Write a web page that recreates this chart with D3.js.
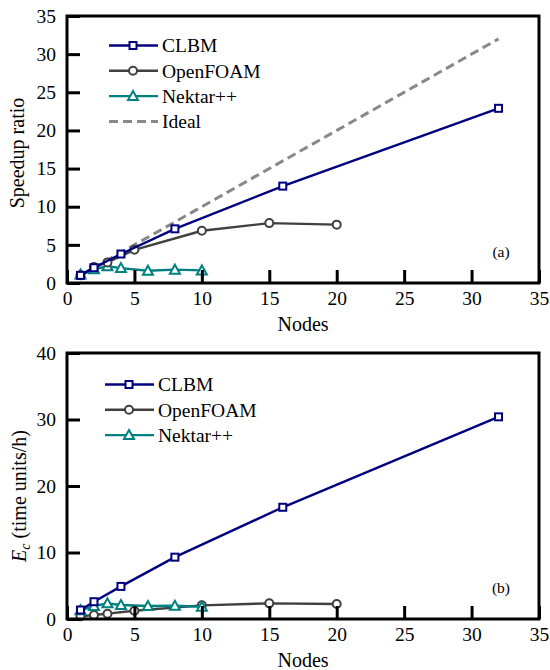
<!doctype html>
<html lang="en">
<head>
  <meta charset="utf-8">
  <title>Speedup and efficiency</title>
  <style>
    body { margin: 0; background: #fff; }
  </style>
</head>
<body>
  <div id="chart"></div>
  <script src="https://d3js.org/d3.v7.min.js"></script>
  <script>
    // Data --------------------------------------------------------------------
    const clbmNodes = [1, 2, 4, 8, 16, 32];
    const clbmSpeedup = [1, 2.0, 3.8, 7.1, 12.7, 22.9];
    const clbmEc = [1.35, 2.6, 4.9, 9.3, 16.8, 30.4];

    const foamNodes = [1, 2, 3, 5, 10, 15, 20];
    const foamSpeedup = [1, 2.1, 2.7, 4.35, 6.85, 7.85, 7.65];
    const foamEc = [0.4, 0.6, 0.8, 1.25, 2.05, 2.35, 2.25];

    const nekNodes = [1, 2, 3, 4, 6, 8, 10];
    const nekSpeedup = [1.1, 1.8, 2.2, 1.95, 1.6, 1.75, 1.65];
    const nekEc = [1.3, 1.95, 2.35, 2.1, 1.95, 2.0, 1.85];

    const idealNodes = [1, 32];
    const idealSpeedup = [1, 32];

    const xTicks = [0, 5, 10, 15, 20, 25, 30, 35];
    const yTicksA = [0, 5, 10, 15, 20, 25, 30, 35];
    const yTicksB = [0, 10, 20, 30, 40];

    const zip = (xs, ys) => xs.map((x, i) => [x, ys[i]]);

    const FONT = "Liberation Serif";

    const series = {
      clbm: { name: "CLBM", color: "#00007f", marker: "square" },
      foam: { name: "OpenFOAM", color: "#404040", marker: "circle" },
      nek: { name: "Nektar++", color: "#008080", marker: "triangle" },
      ideal: { name: "Ideal", color: "#888888", marker: null, dash: "9,5" }
    };

    const W = 550, H = 670;
    const svg = d3.select("#chart").append("svg")
      .attr("width", W).attr("height", H)
      .attr("font-family", FONT)
      .style("font-family", FONT);

    function drawMarker(g, type, x, y, color) {
      if (type === "square") {
        g.append("rect").attr("x", x - 3.5).attr("y", y - 3.5)
          .attr("width", 7).attr("height", 7)
          .attr("fill", "#fff").attr("stroke", color).attr("stroke-width", 2);
      } else if (type === "circle") {
        g.append("circle").attr("cx", x).attr("cy", y).attr("r", 4)
          .attr("fill", "#fff").attr("stroke", color).attr("stroke-width", 2);
      } else if (type === "triangle") {
        g.append("path")
          .attr("d", `M${x},${y - 5}L${x + 5},${y + 4}L${x - 5},${y + 4}Z`)
          .attr("fill", "#fff").attr("stroke", color).attr("stroke-width", 2);
      }
    }

    function panel(opt) {
      const x = d3.scaleLinear().domain([0, 35]).range([67, 539]);
      const y = d3.scaleLinear().domain(opt.yDomain).range([opt.bottom, opt.top]);
      const g = svg.append("g");

      const line = d3.line().x(d => x(d[0])).y(d => y(d[1]));

      // series
      opt.lines.forEach(s => {
        const st = series[s.key];
        g.append("path").datum(s.data)
          .attr("d", line)
          .attr("fill", "none")
          .attr("stroke", st.color)
          .attr("stroke-width", st.dash ? 3 : 2.4)
          .attr("stroke-dasharray", st.dash || null);
        if (st.marker) {
          s.data.forEach(d => drawMarker(g, st.marker, x(d[0]), y(d[1]), st.color));
        }
      });

      // frame
      g.append("rect")
        .attr("x", x(0)).attr("y", opt.top)
        .attr("width", x(35) - x(0)).attr("height", opt.bottom - opt.top)
        .attr("fill", "none").attr("stroke", "#000").attr("stroke-width", 3);

      // axes with inward ticks
      const xAxis = g.append("g")
        .attr("transform", `translate(0,${opt.bottom})`)
        .call(d3.axisBottom(x).tickValues(xTicks).tickSizeInner(-13).tickSizeOuter(0).tickPadding(8))
        .attr("font-family", FONT);
      xAxis.select(".domain").remove();
      xAxis.selectAll("line").attr("stroke-width", 3);
      xAxis.selectAll("text").attr("font-size", 19.5).attr("font-family", FONT)
        .attr("dy", "1.02em").attr("y", 2);

      const yAxis = g.append("g")
        .attr("transform", `translate(${x(0)},0)`)
        .call(d3.axisLeft(y).tickValues(opt.yTicks).tickSizeInner(-13).tickSizeOuter(0).tickPadding(11))
        .attr("font-family", FONT);
      yAxis.select(".domain").remove();
      yAxis.selectAll("line").attr("stroke-width", 3);
      yAxis.selectAll("text").attr("font-size", 19.5).attr("font-family", FONT).attr("x", -11);

      // labels
      g.append("text")
        .attr("x", (x(0) + x(35)) / 2).attr("y", opt.bottom + 48)
        .attr("text-anchor", "middle").attr("font-size", 20).attr("font-family", FONT)
        .text("Nodes");

      const yl = g.append("text")
        .attr("transform", `translate(${opt.yLabelX},${opt.yLabelY}) rotate(-90)`)
        .attr("text-anchor", "middle").attr("font-size", 20).attr("font-family", FONT);
      opt.yLabel(yl);

      g.append("text")
        .attr("x", 501).attr("y", opt.bottom - 26)
        .attr("text-anchor", "middle").attr("font-size", 15.5).attr("font-family", FONT)
        .text(opt.tag);

      // legend
      opt.legend.keys.forEach((k, i) => {
        const st = series[k];
        const ly = opt.legend.y + i * 25.3;
        const lg = g.append("g");
        lg.append("line")
          .attr("x1", opt.legend.x).attr("x2", opt.legend.x + 49)
          .attr("y1", ly).attr("y2", ly)
          .attr("stroke", st.color)
          .attr("stroke-width", st.dash ? 3 : 2.4)
          .attr("stroke-dasharray", st.dash || null);
        if (st.marker) drawMarker(lg, st.marker, opt.legend.x + 24, ly, st.color);
        lg.append("text")
          .attr("x", opt.legend.x + 53).attr("y", ly + 6.8)
          .attr("font-size", 19.5).attr("font-family", FONT)
          .text(st.name);
      });
    }

    // Panel (a) ---------------------------------------------------------------
    panel({
      top: 16, bottom: 283, yDomain: [0, 35], yTicks: yTicksA, tag: "(a)",
      lines: [
        { key: "ideal", data: zip(idealNodes, idealSpeedup) },
        { key: "nek", data: zip(nekNodes, nekSpeedup) },
        { key: "foam", data: zip(foamNodes, foamSpeedup) },
        { key: "clbm", data: zip(clbmNodes, clbmSpeedup) }
      ],
      legend: { x: 109, y: 45.5, keys: ["clbm", "foam", "nek", "ideal"] },
      yLabelX: 24, yLabelY: 153,
      yLabel: t => t.text("Speedup ratio")
    });

    // Panel (b) ---------------------------------------------------------------
    panel({
      top: 353, bottom: 619, yDomain: [0, 40], yTicks: yTicksB, tag: "(b)",
      lines: [
        { key: "foam", data: zip(foamNodes, foamEc) },
        { key: "nek", data: zip(nekNodes, nekEc) },
        { key: "clbm", data: zip(clbmNodes, clbmEc) }
      ],
      legend: { x: 105, y: 384.5, keys: ["clbm", "foam", "nek"] },
      yLabelX: 26, yLabelY: 496,
      yLabel: t => {
        t.append("tspan").attr("font-style", "italic").text("E");
        t.append("tspan").attr("font-style", "italic").attr("font-size", 14)
          .attr("dy", 4).text("c");
        t.append("tspan").attr("dy", -4).text(" (time units/h)");
      }
    });
  </script>
</body>
</html>
